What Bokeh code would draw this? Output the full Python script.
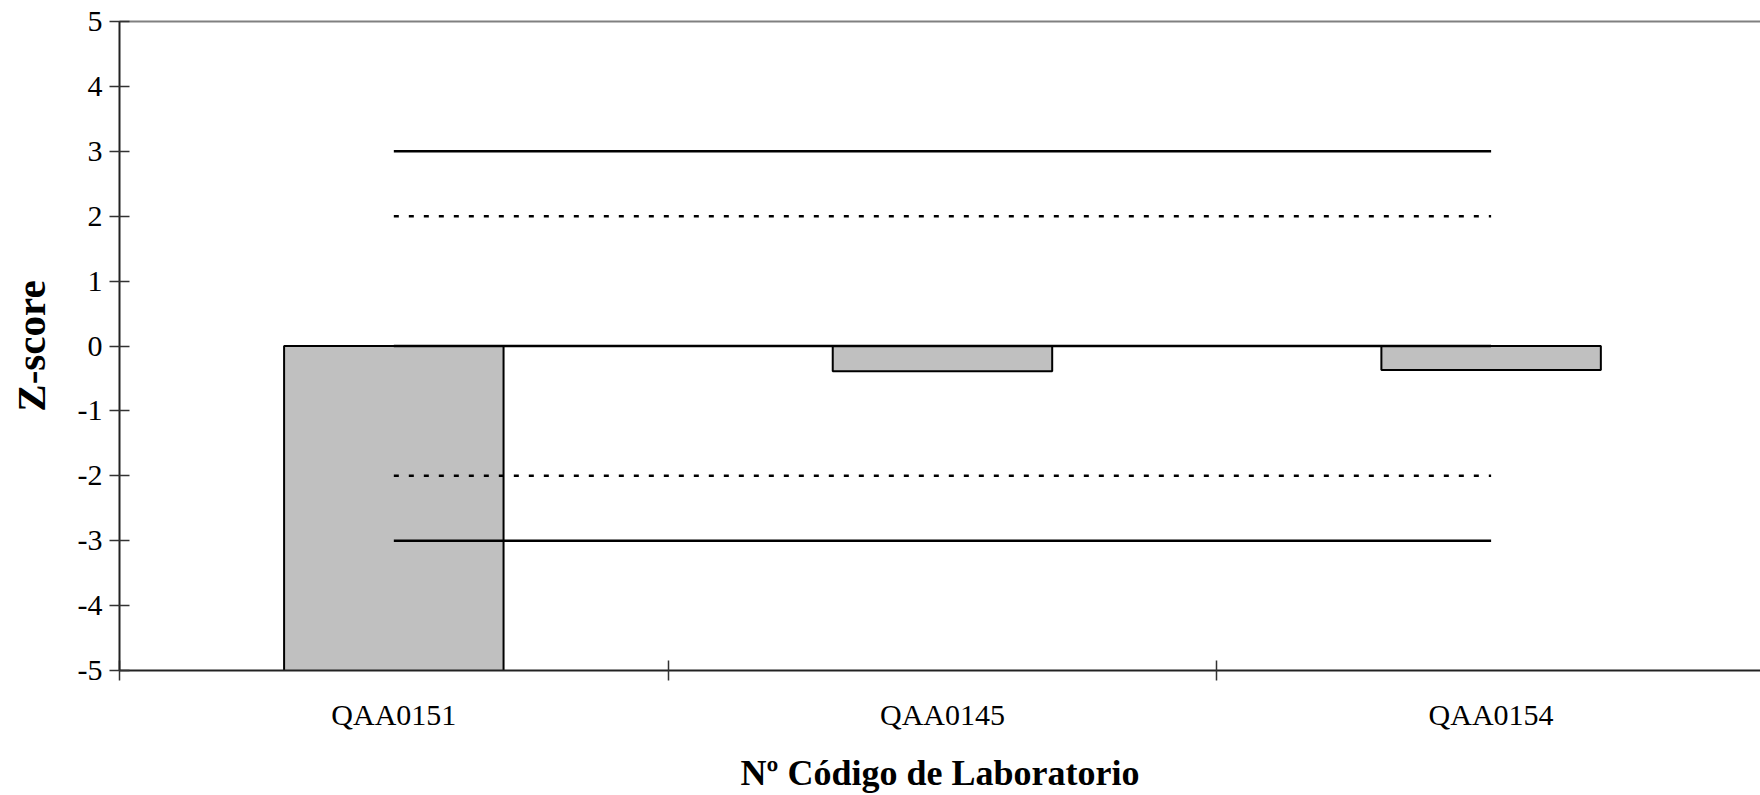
from bokeh.plotting import figure
from bokeh.models import Range1d, LinearAxis, FixedTicker, ColumnDataSource
from bokeh.embed import file_html
from bokeh.resources import INLINE

# ---- data ----
labs = ["QAA0151", "QAA0145", "QAA0154"]
zscores = [-6.2, -0.39, -0.37]
upper_action = [3, 3, 3]
upper_warning = [2, 2, 2]
centre_line = [0, 0, 0]
lower_warning = [-2, -2, -2]
lower_action = [-3, -3, -3]
y_ticks = [-5, -4, -3, -2, -1, 0, 1, 2, 3, 4, 5]
y_tick_labels = ["-5", "-4", "-3", "-2", "-1", "0", "1", "2", "3", "4", "5"]

FONT = "Liberation Serif"

xc = [i + 0.5 for i in range(len(labs))]
bounds = [i for i in range(len(labs) + 1)]

p = figure(width=1760, height=795,
           x_range=Range1d(0, 2.991), y_range=Range1d(-5, 5),
           output_backend="svg", toolbar_location=None,
           min_border_left=119, min_border_top=21,
           min_border_bottom=125, min_border_right=0)
p.background_fill_color = "white"
p.border_fill_color = "white"
p.outline_line_color = None
p.xgrid.visible = False
p.ygrid.visible = False

src = ColumnDataSource(dict(x=xc, z=zscores))
p.vbar(x="x", top="z", bottom=0, width=0.4, source=src,
       fill_color="#C0C0C0", line_color="black", line_width=2)

p.line(xc, centre_line, line_color="black", line_width=2.5)
p.line(xc, upper_action, line_color="black", line_width=2.5)
p.line(xc, lower_action, line_color="black", line_width=2.5)
p.line(xc, upper_warning, line_color="black", line_width=2.5, line_dash="5 10")
p.line(xc, lower_warning, line_color="black", line_width=2.5, line_dash="5 10")

# x axis
xa = p.xaxis[0]
xa.ticker = FixedTicker(ticks=xc, minor_ticks=bounds)
xa.major_label_overrides = {float(c): l for c, l in zip(xc, labs)}
xa.major_tick_in = 0
xa.major_tick_out = 0
xa.minor_tick_in = 10
xa.minor_tick_out = 10
xa.minor_tick_line_color = "#333333"
xa.minor_tick_line_width = 1.5
xa.axis_line_color = "#222222"
xa.axis_line_width = 2
xa.major_label_text_font = FONT
xa.major_label_text_font_size = "30px"
xa.major_label_text_color = "black"
xa.major_label_standoff = 17
xa.axis_label = "Nº Código de Laboratorio"
xa.axis_label_text_font = FONT
xa.axis_label_text_font_style = "bold"
xa.axis_label_text_font_size = "36px"
xa.axis_label_text_color = "black"
xa.axis_label_standoff = 19

# y axis
ya = p.yaxis[0]
ya.ticker = FixedTicker(ticks=y_ticks)
ya.major_label_overrides = {t: s for t, s in zip(y_ticks, y_tick_labels)}
ya.major_tick_in = 10
ya.major_tick_out = 10
ya.major_tick_line_color = "#333333"
ya.major_tick_line_width = 1.5
ya.minor_tick_line_color = None
ya.axis_line_color = "#222222"
ya.axis_line_width = 2
ya.major_label_text_font = FONT
ya.major_label_text_font_size = "30px"
ya.major_label_text_color = "black"
ya.major_label_standoff = 7
ya.axis_label = "Z-score"
ya.axis_label_text_font = FONT
ya.axis_label_text_font_style = "bold"
ya.axis_label_text_font_size = "41px"
ya.axis_label_text_color = "black"
ya.axis_label_standoff = 21

# top border of plot area
top = LinearAxis(ticker=FixedTicker(ticks=[]), axis_line_color="#808080",
                 axis_line_width=2, major_tick_line_color=None,
                 minor_tick_line_color=None, major_label_text_font_size="0px")
p.add_layout(top, "above")

open("out.html", "w").write(file_html(p, INLINE))
